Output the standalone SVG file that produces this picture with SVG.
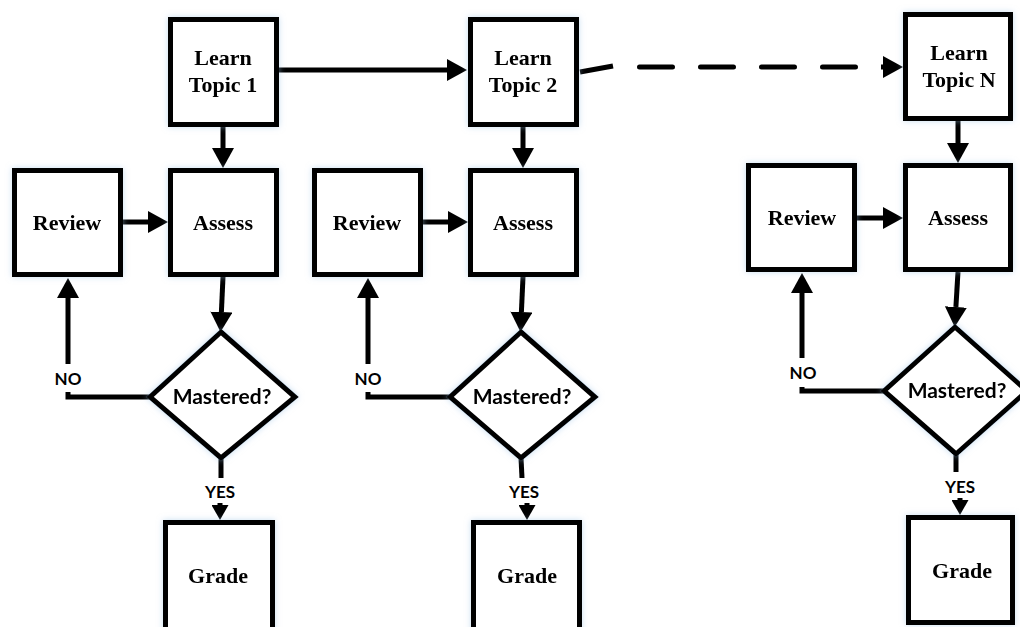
<svg xmlns="http://www.w3.org/2000/svg" width="1020" height="627" viewBox="0 0 1020 627">
<defs>
<style>
.box{fill:#fff;stroke:#000;stroke-width:5}
.t{font-family:"Liberation Serif","Times New Roman",serif;font-weight:bold;font-size:22px;text-anchor:middle;fill:#000}
.q{font-family:Lato,"Liberation Sans",sans-serif;font-weight:bold;font-size:21px;text-anchor:middle;fill:#000}
.lbl{font-family:Lato,"Liberation Sans",sans-serif;font-weight:bold;font-size:17px;text-anchor:middle;fill:#000}
.c{fill:none;stroke:#000;stroke-width:5}
.a{fill:none;stroke:#000;stroke-width:5;marker-end:url(#ah)}
.s{fill:none;stroke:#000;stroke-width:5;marker-end:url(#as)}
</style>
<marker id="ah" viewBox="0 0 20 22" markerUnits="userSpaceOnUse" markerWidth="20" markerHeight="22" refX="0" refY="11" orient="auto"><path d="M0,0 L20,11 L0,22 z" fill="#000"/></marker>
<marker id="as" viewBox="0 0 15 17" markerUnits="userSpaceOnUse" markerWidth="15" markerHeight="17" refX="0" refY="8.5" orient="auto"><path d="M0,0 L15,8.5 L0,17 z" fill="#000"/></marker>
<filter id="glow" x="-20%" y="-20%" width="140%" height="140%">
<feGaussianBlur in="SourceAlpha" stdDeviation="3" result="b"/>
<feFlood flood-color="#9dc3e6" flood-opacity="0.55"/>
<feComposite in2="b" operator="in" result="g"/>
<feMerge><feMergeNode in="g"/><feMergeNode in="SourceGraphic"/></feMerge>
</filter>
</defs>
<rect width="1020" height="627" fill="#fff"/>

<g id="connectors">
<path class="a" d="M279,70 H447"/>
<path class="c" d="M580,72 L613,66"/>
<path class="c" d="M639.5,67 H880" stroke-dasharray="33 28" stroke-linecap="round"/>
<path class="a" d="M881,67 H883"/>

<path class="a" d="M223,127 V148"/>
<path class="a" d="M123,222 H148"/>
<path class="a" d="M223,277 L221.4,312"/>
<path class="c" d="M150,397 H68 V392"/>
<path class="a" d="M68,364 V298"/>
<path class="c" d="M221,458 V478"/>
<path class="s" d="M220,503 V505"/>

<path class="a" d="M523,127 V148"/>
<path class="a" d="M423,222 H448"/>
<path class="a" d="M523,277 L521.4,312"/>
<path class="c" d="M450,397 H368 V392"/>
<path class="a" d="M368,364 V298"/>
<path class="c" d="M521,458 L522,478"/>
<path class="s" d="M527,503 V505"/>

<path class="a" d="M958,121 V143"/>
<path class="a" d="M857,218 H883"/>
<path class="a" d="M958,272 L955.9,307"/>
<path class="c" d="M884,391 H802 V387"/>
<path class="a" d="M802,358 V293"/>
<path class="c" d="M956,454 V472"/>
<path class="s" d="M960,498 V500"/>
</g>

<g id="learn1" filter="url(#glow)"><rect class="box" x="170.5" y="19.5" width="106" height="105"/><text class="t" x="223" y="65">Learn</text><text class="t" x="223" y="92">Topic 1</text></g>
<g id="assess1" filter="url(#glow)"><rect class="box" x="170.5" y="170.5" width="106" height="104"/><text class="t" x="223" y="230">Assess</text></g>
<g id="review1" filter="url(#glow)"><rect class="box" x="14.5" y="170.5" width="106" height="104"/><text class="t" x="67" y="230">Review</text></g>
<g id="mastered1" filter="url(#glow)"><path class="box" d="M221,332 L295,397 L221,458 L150,397 Z"/><text class="q" x="222" y="404">Mastered?</text></g>
<g id="grade1" filter="url(#glow)"><rect class="box" x="165.5" y="522.5" width="107" height="120"/><text class="t" x="218" y="583">Grade</text></g>
<g id="no1"><text class="lbl" x="68" y="385">NO</text></g>
<g id="yes1"><text class="lbl" x="220" y="498">YES</text></g>

<g id="learn2" filter="url(#glow)"><rect class="box" x="470.5" y="19.5" width="106" height="105"/><text class="t" x="523" y="65">Learn</text><text class="t" x="523" y="92">Topic 2</text></g>
<g id="assess2" filter="url(#glow)"><rect class="box" x="470.5" y="170.5" width="106" height="104"/><text class="t" x="523" y="230">Assess</text></g>
<g id="review2" filter="url(#glow)"><rect class="box" x="314.5" y="170.5" width="106" height="104"/><text class="t" x="367" y="230">Review</text></g>
<g id="mastered2" filter="url(#glow)"><path class="box" d="M521,332 L595,397 L521,458 L450,397 Z"/><text class="q" x="522" y="404">Mastered?</text></g>
<g id="grade2" filter="url(#glow)"><rect class="box" x="473.5" y="522.5" width="106" height="120"/><text class="t" x="527" y="583">Grade</text></g>
<g id="no2"><text class="lbl" x="368" y="385">NO</text></g>
<g id="yes2"><text class="lbl" x="524" y="498">YES</text></g>

<g id="learnN" filter="url(#glow)"><rect class="box" x="905.5" y="14.5" width="105" height="104"/><text class="t" x="959" y="60">Learn</text><text class="t" x="959" y="87">Topic N</text></g>
<g id="assessN" filter="url(#glow)"><rect class="box" x="905.5" y="165.5" width="105" height="104"/><text class="t" x="958" y="225">Assess</text></g>
<g id="reviewN" filter="url(#glow)"><rect class="box" x="748.5" y="165.5" width="106" height="104"/><text class="t" x="802" y="225">Review</text></g>
<g id="masteredN" filter="url(#glow)"><path class="box" d="M955,327 L1027,391 L956,454 L884,391 Z"/><text class="q" x="957" y="398">Mastered?</text></g>
<g id="gradeN" filter="url(#glow)"><rect class="box" x="908.5" y="517.5" width="104" height="105"/><text class="t" x="962" y="578">Grade</text></g>
<g id="noN"><text class="lbl" x="803" y="379">NO</text></g>
<g id="yesN"><text class="lbl" x="960" y="493">YES</text></g>
</svg>
